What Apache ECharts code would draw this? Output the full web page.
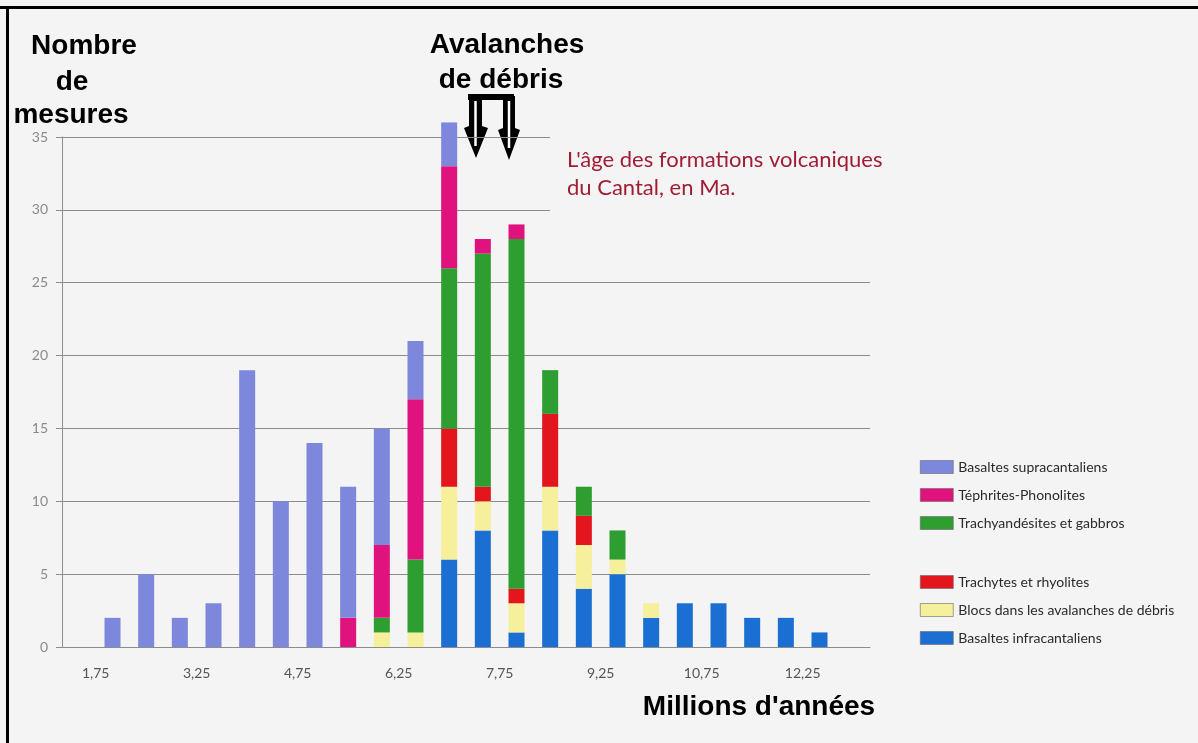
<!DOCTYPE html>
<html>
<head>
<meta charset="utf-8">
<script src="https://cdn.jsdelivr.net/npm/echarts@6/dist/echarts.min.js"></script>
<style>
html, body { margin: 0; padding: 0; background: #f4f4f4; }
#chart { width: 1198px; height: 743px; }
</style>
</head>
<body>
<div id="chart"></div>
<script>
// classes d'âge (Ma), centre de chaque intervalle de 0,5 Ma
var binCenters = [1.5, 2, 2.5, 3, 3.5, 4, 4.5, 5, 5.5, 6, 6.5, 7, 7.5, 8, 8.5, 9, 9.5, 10, 10.5, 11, 11.5, 12, 12.5, 13];
var tickLabels = ['1,75', '3,25', '4,75', '6,25', '7,75', '9,25', '10,75', '12,25'];

// nombre de mesures par classe (bas -> haut de la pile)
var basaltesInfra = [0, 0, 0, 0, 0, 0, 0, 0, 0, 0, 0, 6, 8, 1, 8, 4, 5, 2, 3, 3, 2, 2, 1, 0];
var blocsAvalanches = [0, 0, 0, 0, 0, 0, 0, 0, 0, 1, 1, 5, 2, 2, 3, 3, 1, 1, 0, 0, 0, 0, 0, 0];
var trachytes = [0, 0, 0, 0, 0, 0, 0, 0, 0, 0, 0, 4, 1, 1, 5, 2, 0, 0, 0, 0, 0, 0, 0, 0];
var trachyandesites = [0, 0, 0, 0, 0, 0, 0, 0, 0, 1, 5, 11, 16, 24, 3, 2, 2, 0, 0, 0, 0, 0, 0, 0];
var tephrites = [0, 0, 0, 0, 0, 0, 0, 0, 2, 5, 11, 7, 1, 1, 0, 0, 0, 0, 0, 0, 0, 0, 0, 0];
var basaltesSupra = [0, 2, 5, 2, 3, 19, 10, 14, 9, 8, 4, 3, 0, 0, 0, 0, 0, 0, 0, 0, 0, 0, 0, 0];

var chart = echarts.init(document.getElementById('chart'));

var gray = '#8c8c8c';
var clear = 'rgba(0,0,0,0)';
var narrow = 'Lato, "Liberation Sans", sans-serif';

function barSeries(name, data, color) {
    return {
        name: name,
        type: 'bar',
        stack: 'total',
        xAxisIndex: 0,
        yAxisIndex: 0,
        barWidth: 16,
        clip: false,
        data: data,
        itemStyle: { color: color }
    };
}

function txt(text, x, y, font, fill, align) {
    return {
        type: 'text',
        x: x,
        y: y,
        style: {
            text: text,
            font: font,
            fill: fill,
            align: align, textAlign: align,
            verticalAlign: 'middle', textVerticalAlign: 'middle'
        }
    };
}

var big = 'bold 28px "Liberation Sans", Arial, sans-serif';
var red = '#a01c34';

var option = {
    backgroundColor: '#f4f4f4',
    animation: false,
    grid: [
        { left: 62, right: 328, top: 137, bottom: 96 },
        { left: 62, right: 648, top: 137, bottom: 96 }
    ],
    xAxis: [
        {
            type: 'category', gridIndex: 0, data: binCenters, boundaryGap: true,
            axisLine: { lineStyle: { color: gray } },
            axisTick: { length: 4, lineStyle: { color: gray } },
            axisLabel: { show: false }
        },
        {
            type: 'value', gridIndex: 0, min: 0, max: 24, interval: 1,
            position: 'bottom',
            axisLine: { show: false }, axisTick: { show: false }, splitLine: { show: false },
            axisLabel: {
                margin: 19, color: '#555', fontSize: 14, fontFamily: narrow,
                formatter: function (v) {
                    var k = (v - 1) / 3;
                    return (k === Math.round(k) && k >= 0 && k < tickLabels.length) ? tickLabels[k] : '';
                }
            }
        },
        { type: 'value', gridIndex: 1, min: 0, max: 1, show: false }
    ],
    yAxis: [
        {
            type: 'value', gridIndex: 0, min: 0, max: 35, interval: 5,
            axisLine: { show: true, lineStyle: { color: gray } },
            axisTick: { show: true, length: 6, lineStyle: { color: gray } },
            axisLabel: { margin: 14, color: '#8a8a8a', fontSize: 14, fontFamily: narrow },
            splitLine: { lineStyle: { color: [gray, gray, gray, gray, gray, gray, clear, clear] } }
        },
        {
            type: 'value', gridIndex: 1, min: 0, max: 35, interval: 5,
            axisLine: { show: false }, axisTick: { show: false }, axisLabel: { show: false },
            splitLine: { lineStyle: { color: [clear, clear, clear, clear, clear, clear, gray, gray] } }
        }
    ],
    legend: [
        {
            data: ['Basaltes supracantaliens', 'Téphrites-Phonolites', 'Trachyandésites et gabbros'],
            orient: 'vertical', left: 915, top: 455, icon: 'rect',
            itemWidth: 33, itemHeight: 13, itemGap: 14,
            itemStyle: { borderColor: '#666', borderWidth: 0.6 },
            textStyle: { fontFamily: narrow, fontSize: 14, color: '#2a2a2a' }
        },
        {
            data: ['Trachytes et rhyolites', 'Blocs dans les avalanches de débris', 'Basaltes infracantaliens'],
            orient: 'vertical', left: 915, top: 570, icon: 'rect',
            itemWidth: 33, itemHeight: 13, itemGap: 14,
            itemStyle: { borderColor: '#666', borderWidth: 0.6 },
            textStyle: { fontFamily: narrow, fontSize: 14, color: '#2a2a2a' }
        }
    ],
    series: [
        barSeries('Basaltes infracantaliens', basaltesInfra, '#1b6fd2'),
        barSeries('Blocs dans les avalanches de débris', blocsAvalanches, '#f6ef9c'),
        barSeries('Trachytes et rhyolites', trachytes, '#e2161c'),
        barSeries('Trachyandésites et gabbros', trachyandesites, '#2f9e30'),
        barSeries('Téphrites-Phonolites', tephrites, '#e0137e'),
        barSeries('Basaltes supracantaliens', basaltesSupra, '#7d88dc')
    ],
    graphic: [
        // cadre
        { type: 'rect', shape: { x: 0, y: 6, width: 1198, height: 3 }, style: { fill: '#000' } },
        { type: 'rect', shape: { x: 6, y: 6, width: 3, height: 737 }, style: { fill: '#000' } },
        txt('Nombre', 84, 46, big, '#000', 'center'),
        txt('de', 72, 82, big, '#000', 'center'),
        txt('mesures', 71, 115, big, '#000', 'center'),
        txt('Avalanches', 507, 45, big, '#000', 'center'),
        txt('de débris', 501, 80, big, '#000', 'center'),
        txt('Millions d\'années', 759, 707, big, '#000', 'center'),
        txt('L\'âge des formations volcaniques', 567, 160, '22px ' + narrow, red, 'left'),
        txt('du Cantal, en Ma.', 567, 188, '22px ' + narrow, red, 'left'),
        // flèches vers les avalanches de débris
        { type: 'rect', shape: { x: 468, y: 94, width: 46, height: 6 }, style: { fill: '#000' } },
        { type: 'polygon', shape: { points: [[469, 96], [482, 96], [482, 126], [488, 128], [476, 158], [464, 128], [469, 126]] }, style: { fill: '#000' } },
        { type: 'polygon', shape: { points: [[503, 96], [515, 96], [515, 128], [520, 130], [509, 160], [498, 130], [503, 128]] }, style: { fill: '#000' } },
        { type: 'line', shape: { x1: 475.5, y1: 101, x2: 475.5, y2: 146 }, style: { stroke: '#fff', lineWidth: 2.5 } },
        { type: 'line', shape: { x1: 509, y1: 101, x2: 509, y2: 148 }, style: { stroke: '#fff', lineWidth: 2.5 } }
    ]
};

chart.setOption(option);
</script>
</body>
</html>
